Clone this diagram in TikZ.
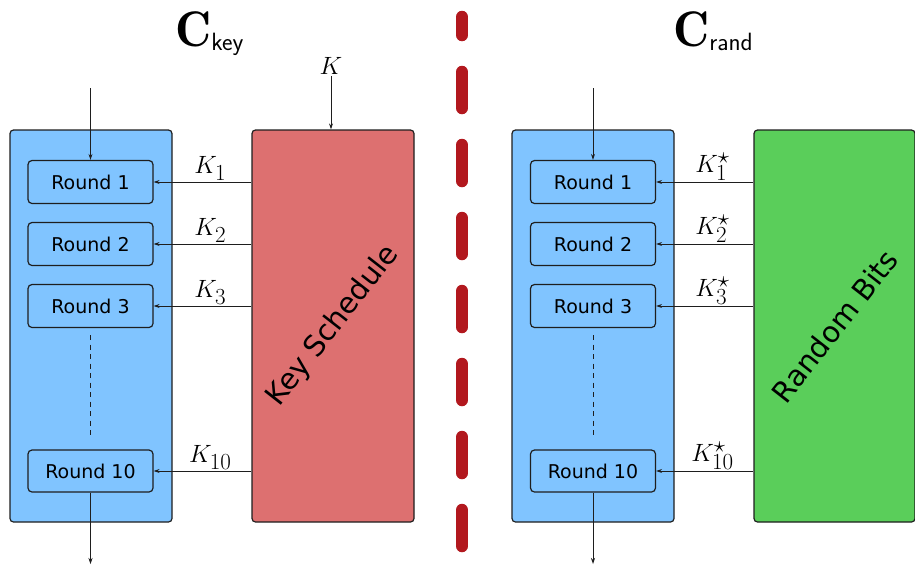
\RequirePackage{fix-cm}
\documentclass[tikz,border=0pt]{standalone}
\usepackage{fontspec}
\newfontfamily\dejavu{DejaVu Sans}
\usetikzlibrary{arrows.meta}
\DeclareMathSizes{25}{25}{23}{18}
\definecolor{cblue}{RGB}{128,196,255}
\definecolor{cred}{RGB}{221,112,112}
\definecolor{cgreen}{RGB}{90,206,90}
\definecolor{csep}{RGB}{178,24,30}
\definecolor{cline}{RGB}{30,30,30}
\begin{document}
\begin{tikzpicture}[x=1pt,y=-1pt,
  bigbox/.style={draw=cline, line width=1.2pt, rounded corners=3.5pt, minimum width=162pt, minimum height=392pt, inner sep=0pt},
  roundbox/.style={draw=cline, line width=1.2pt, rounded corners=4pt, fill=cblue, minimum width=125pt, minimum height=43pt, inner sep=0pt, font=\dejavu\fontsize{19}{19}\selectfont},
  arr/.style={draw=cline, line width=0.8pt, -{Stealth[length=6pt,width=4pt]}},
  klabel/.style={font=\fontsize{25}{25}\selectfont, inner sep=1.5pt},
  rottext/.style={font=\dejavu\fontsize{29}{29}\selectfont, rotate=52},
  dotline/.style={draw=cline, line width=1pt, dash pattern=on 5pt off 4.5pt},
  sepline/.style={draw=csep, line width=12.5pt, line cap=round, dash pattern=on 36pt off 37pt},
  title/.style={anchor=base west, inner sep=0pt}
]
\useasboundingbox (0,0) rectangle (915,566);

% ---------- left half ----------
\node[bigbox, fill=cblue] (L) at (91,326) {};
\node[roundbox] (r1) at (90.5,182) {Round 1};
\node[roundbox] (r2) at (90.5,244) {Round 2};
\node[roundbox] (r3) at (90.5,306) {Round 3};
\node[roundbox, minimum height=42pt] (r10) at (90.5,471) {Round 10};
\draw[dotline] ([yshift=-7pt]r3.south) -- ([yshift=10pt]r10.north);
\coordinate (inL) at (90.5,88);
\coordinate (outL) at (90.5,564);
\draw[arr] (inL) -- (r1.north);
\draw[arr] (r10.south) -- (outL);

\node[bigbox, fill=cred] (KS) at (333,326) {};
\node[rottext] (kstext) at (KS.center) {Key Schedule};
\node[klabel] (kin) at (331,66) {$K$};
\draw[arr] (kin.south) -- (kin.south |- KS.north);
\draw[arr] (KS.west |- r1) -- node[klabel, above, pos=0.42] (k1) {$K_1$} (r1.east);
\draw[arr] (KS.west |- r2) -- node[klabel, above, pos=0.42] (k2) {$K_2$} (r2.east);
\draw[arr] (KS.west |- r3) -- node[klabel, above, pos=0.42] (k3) {$K_3$} (r3.east);
\draw[arr] (KS.west |- r10) -- node[klabel, above, pos=0.42] (k10) {$K_{10}$} (r10.east);

\node[title] (tkey) at (175,46) {\fontsize{50}{50}\selectfont$\mathbf{C}$\fontsize{25}{25}\selectfont\raisebox{-4pt}{\sffamily key}};

% ---------- separator ----------
\coordinate (sepB) at (462,546);
\coordinate (sepT) at (462,17);
\draw[sepline] (sepB) -- (sepT);

% ---------- right half ----------
\node[bigbox, fill=cblue] (R) at (593,326) {};
\node[roundbox] (s1) at (593,182) {Round 1};
\node[roundbox] (s2) at (593,244) {Round 2};
\node[roundbox] (s3) at (593,306) {Round 3};
\node[roundbox, minimum height=42pt] (s10) at (593,471) {Round 10};
\draw[dotline] ([yshift=-7pt]s3.south) -- ([yshift=10pt]s10.north);
\coordinate (inR) at (593,88);
\coordinate (outR) at (593,564);
\draw[arr] (inR) -- (s1.north);
\draw[arr] (s10.south) -- (outR);

\node[bigbox, fill=cgreen, minimum width=161pt] (RB) at (834.5,326) {};
\node[rottext] (rbtext) at (RB.center) {Random Bits};
\draw[arr] (RB.west |- s1) -- node[klabel, above, pos=0.42] (q1) {$K^{\star}_1$} (s1.east);
\draw[arr] (RB.west |- s2) -- node[klabel, above, pos=0.42] (q2) {$K^{\star}_2$} (s2.east);
\draw[arr] (RB.west |- s3) -- node[klabel, above, pos=0.42] (q3) {$K^{\star}_3$} (s3.east);
\draw[arr] (RB.west |- s10) -- node[klabel, above, pos=0.42] (q10) {$K^{\star}_{10}$} (s10.east);

\node[title] (trand) at (673,46) {\fontsize{50}{50}\selectfont$\mathbf{C}$\fontsize{25}{25}\selectfont\raisebox{-4pt}{\sffamily rand}};
\end{tikzpicture}
\end{document}
